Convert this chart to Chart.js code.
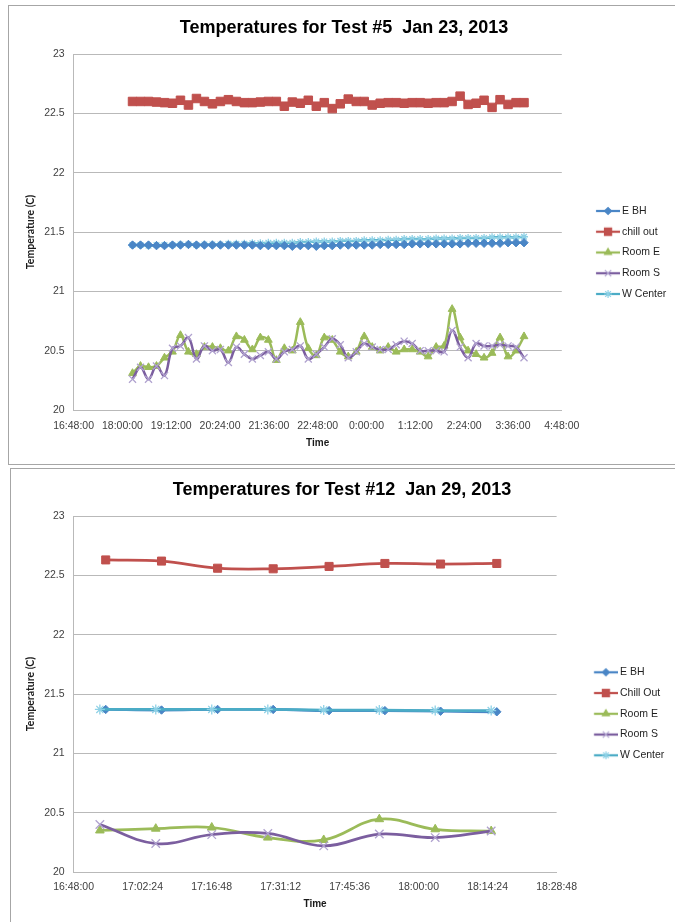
<!DOCTYPE html>
<html>
<head>
<meta charset="utf-8">
<title>Temperatures for Test #5 and Test #12</title>
<script src="https://cdn.jsdelivr.net/npm/chart.js@4/dist/chart.umd.min.js"></script>
<style>
  html, body { margin: 0; padding: 0; background: #fff; }
  body { width: 675px; height: 922px; position: relative; overflow: hidden; }
  .panel { position: absolute; border: 1px solid #a6a6a6; box-sizing: border-box; }
  #panel5 { left: 8px; top: 5px; width: 700px; height: 460px; }
  #panel12 { left: 10px; top: 468px; width: 700px; height: 470px; }
  canvas { position: absolute; left: 0; }
  #chart5 { top: 0; }
  #chart12 { top: 464px; }
</style>
</head>
<body>
<div class="panel" id="panel5"></div>
<div class="panel" id="panel12"></div>
<canvas id="chart5" width="675" height="464" style="width:675px;height:464px"></canvas>
<canvas id="chart12" width="675" height="458" style="width:675px;height:458px"></canvas>
<script>
// ---- Test #5, Jan 23, 2013 (overnight run) ----
const TITLE_5 = 'Temperatures for Test #5  Jan 23, 2013';
const LABELS_5 = ['E BH', 'chill out', 'Room E', 'Room S', 'W Center'];
const TIMES_5 = [
  '18:14:54','18:26:41','18:38:28','18:50:15','19:02:02','19:13:49','19:25:36','19:37:23','19:49:10','20:00:57',
  '20:12:44','20:24:31','20:36:18','20:48:05','20:59:52','21:11:39','21:23:26','21:35:13','21:47:00','21:58:47',
  '22:10:34','22:22:21','22:34:08','22:45:55','22:57:42','23:09:29','23:21:16','23:33:03','23:44:50','23:56:37',
  '0:08:24','0:20:11','0:31:58','0:43:45','0:55:32','1:07:19','1:19:06','1:30:53','1:42:40','1:54:27',
  '2:06:14','2:18:01','2:29:48','2:41:35','2:53:22','3:05:09','3:16:56','3:28:43','3:40:30','3:52:17'
];
const E_BH_5 = [
  21.39, 21.39, 21.39, 21.385, 21.385, 21.39, 21.39, 21.395, 21.39, 21.39,
  21.39, 21.39, 21.39, 21.39, 21.39, 21.39, 21.385, 21.385, 21.385, 21.385,
  21.38, 21.385, 21.385, 21.38, 21.385, 21.385, 21.39, 21.39, 21.39, 21.39,
  21.39, 21.395, 21.395, 21.395, 21.395, 21.40, 21.40, 21.40, 21.40, 21.40,
  21.40, 21.40, 21.405, 21.405, 21.405, 21.405, 21.405, 21.41, 21.41, 21.41
];
const CHILL_OUT_5 = [
  22.60, 22.60, 22.60, 22.595, 22.59, 22.585, 22.61, 22.57, 22.625, 22.60,
  22.58, 22.60, 22.615, 22.60, 22.59, 22.59, 22.595, 22.60, 22.60, 22.56,
  22.595, 22.585, 22.61, 22.56, 22.59, 22.54, 22.58, 22.62, 22.60, 22.60,
  22.57, 22.585, 22.59, 22.59, 22.585, 22.59, 22.59, 22.585, 22.59, 22.59,
  22.60, 22.645, 22.575, 22.585, 22.61, 22.55, 22.615, 22.575, 22.59, 22.59
];
const ROOM_E_5 = [
  20.31, 20.37, 20.36, 20.37, 20.44, 20.49, 20.63, 20.49, 20.47, 20.53,
  20.53, 20.52, 20.50, 20.62, 20.59, 20.51, 20.61, 20.59, 20.42, 20.52,
  20.50, 20.74, 20.52, 20.46, 20.61, 20.59, 20.49, 20.45, 20.49, 20.62,
  20.53, 20.50, 20.53, 20.49, 20.51, 20.51, 20.49, 20.45, 20.53, 20.54,
  20.85, 20.61, 20.50, 20.47, 20.44, 20.48, 20.61, 20.45, 20.50, 20.62
];
const ROOM_S_5 = [
  20.26, 20.36, 20.26, 20.37, 20.29, 20.52, 20.54, 20.61, 20.43, 20.54,
  20.50, 20.51, 20.40, 20.53, 20.47, 20.43, 20.46, 20.49, 20.43, 20.49,
  20.51, 20.54, 20.43, 20.47, 20.53, 20.60, 20.55, 20.44, 20.49, 20.56,
  20.53, 20.51, 20.51, 20.55, 20.58, 20.56, 20.50, 20.50, 20.50, 20.49,
  20.67, 20.53, 20.44, 20.56, 20.54, 20.54, 20.55, 20.54, 20.53, 20.44
];
const W_CENTER_5 = [
  21.39, 21.39, 21.385, 21.39, 21.39, 21.39, 21.395, 21.395, 21.39, 21.395,
  21.395, 21.395, 21.40, 21.40, 21.40, 21.405, 21.405, 21.41, 21.41, 21.41,
  21.41, 21.415, 21.415, 21.42, 21.42, 21.42, 21.425, 21.425, 21.425, 21.43,
  21.43, 21.43, 21.435, 21.435, 21.44, 21.44, 21.44, 21.44, 21.445, 21.445,
  21.445, 21.45, 21.45, 21.45, 21.45, 21.455, 21.455, 21.455, 21.455, 21.46
];
const X_TICKS_5 = { min: '16:48:00', max: '4:48:00', step: '1:12:00' };

// ---- Test #12, Jan 29, 2013 ----
const TITLE_12 = 'Temperatures for Test #12  Jan 29, 2013';
const LABELS_12 = ['E BH', 'Chill Out', 'Room E', 'Room S', 'W Center'];
// the E BH / Chill Out logger and the room loggers read at slightly different times
const TIMES_12_PLANT = ['16:54:42','17:06:21','17:18:03','17:29:39','17:41:19','17:52:58','18:04:35','18:16:19'];
const TIMES_12_ROOM  = ['16:53:29','17:05:09','17:16:50','17:28:32','17:40:12','17:51:48','18:03:28','18:15:09'];
const E_BH_12      = [21.37, 21.365, 21.37, 21.37, 21.36, 21.36, 21.355, 21.35];
const CHILL_OUT_12 = [22.63, 22.62, 22.56, 22.555, 22.575, 22.60, 22.595, 22.60];
const ROOM_E_12    = [20.35, 20.365, 20.375, 20.29, 20.27, 20.445, 20.36, 20.345];
const ROOM_S_12    = [20.40, 20.24, 20.315, 20.325, 20.22, 20.32, 20.29, 20.345];
const W_CENTER_12  = [21.37, 21.37, 21.37, 21.37, 21.365, 21.365, 21.36, 21.36];
const X_TICKS_12 = { min: '16:48:00', max: '18:28:48', step: '0:14:24' };

const Y_TICKS = { min: 20, max: 23, step: 0.5 };

// ---- shared look ----
const SANS = "'Liberation Sans', Arial, sans-serif";
const GRID = '#b9b9b9';
const INK = '#404040';
const TICK_FONT = { family: SANS, size: 10.5 };
const LEGEND_FONT = 10.5;
const LEGEND_PAD = 10.25;
const SERIES_STYLE = [
  { line: '#4a86c6', mark: '#4a86c6', style: 'rectRot' },
  { line: '#c0504d', mark: '#c0504d', style: 'rect' },
  { line: '#9bbb59', mark: '#9bbb59', style: 'triangle' },
  { line: '#7b5e9f', mark: '#b0a2cf', style: 'crossRot' },
  { line: '#4bacc6', mark: '#8ed1e6', style: 'star' }
];
// drawing order per chart (lower = drawn later, on top)
const ORDER_5  = [0, 3, 2, 1, 4];
const ORDER_12 = [1, 4, 3, 2, 0];

function clockToSeconds(t) {
  const [h, m, s] = t.split(':').map(Number);
  return h * 3600 + m * 60 + s;
}
// times before noon belong to the following day
function timeOfRun(t) {
  const v = clockToSeconds(t);
  return v < 12 * 3600 ? v + 86400 : v;
}
function secondsToClock(v) {
  const t = Math.round(v) % 86400;
  const h = Math.floor(t / 3600), m = Math.floor((t % 3600) / 60), s = t % 60;
  return h + ':' + String(m).padStart(2, '0') + ':' + String(s).padStart(2, '0');
}
function points(times, values) {
  return values.map((y, i) => ({ x: timeOfRun(times[i]), y }));
}

function strokePoint(ctx, style, radius, x, y) {
  if (Chart.helpers && Chart.helpers.drawPoint) {
    Chart.helpers.drawPoint(ctx, { pointStyle: style, radius, borderWidth: 1.2, rotation: 0 }, x, y);
  }
}

// legend swatch: a short line with the series marker, drawn onto a small canvas
function legendIcon(st, radius, g) {
  const L = g.chartRight + LEGEND_PAD;
  const bw = g.textX - LEGEND_FONT / 2 - L;
  const cx = L + bw / 2;
  const w = Math.round(2 * (g.lineEnd - cx));
  const left = cx - w / 2;
  const c = document.createElement('canvas');
  c.width = w; c.height = 14;
  const ctx = c.getContext('2d');
  ctx.strokeStyle = st.line; ctx.lineWidth = 2.25;
  ctx.beginPath(); ctx.moveTo(g.lineStart - left, 7); ctx.lineTo(w, 7); ctx.stroke();
  ctx.fillStyle = st.mark; ctx.strokeStyle = st.mark; ctx.lineWidth = 1.2;
  strokePoint(ctx, st.style, radius, g.markX - left, 7);
  return { icon: c, boxWidth: bw };
}

// keeps the legend at a fixed width and at a chosen height
const legendFrame = {
  id: 'legendFrame',
  beforeLayout(chart, args, opts) {
    const lg = chart.legend;
    if (lg && !lg.__fixedWidth) {
      const fit = lg.fit;
      lg.fit = function () { fit.call(this); this.width = opts.width; };
      lg.__fixedWidth = true;
    }
  },
  afterLayout(chart, args, opts) {
    const lg = chart.legend;
    const h = lg.height;
    lg.top = opts.top;
    lg.bottom = opts.top + h;
  }
};

function buildChart(canvasId, spec) {
  const L = spec.layout;
  const icons = spec.series.map((s, i) => legendIcon(SERIES_STYLE[i], s.legendRadius, {
    chartRight: L.chartRight, textX: L.legendTextX,
    lineStart: L.legendLineStart, lineEnd: L.legendLineEnd, markX: L.legendMarkX
  }));
  const datasets = spec.series.map((s, i) => {
    const st = SERIES_STYLE[i];
    const thin = st.style === 'crossRot' || st.style === 'star';
    return {
      label: s.label,
      data: points(s.times, s.values),
      borderColor: st.line,
      backgroundColor: st.mark,
      borderWidth: spec.lineWidth,
      pointStyle: st.style,
      pointRadius: s.radius,
      pointHoverRadius: s.radius,
      pointBorderColor: st.mark,
      pointBackgroundColor: st.mark,
      pointBorderWidth: thin ? 1.3 : 1,
      tension: 0.4,
      fill: false,
      order: spec.order[i]
    };
  });
  const xMin = timeOfRun(spec.xTicks.min), xMax = timeOfRun(spec.xTicks.max);
  return new Chart(document.getElementById(canvasId), {
    type: 'line',
    data: { datasets },
    plugins: [legendFrame],
    options: {
      responsive: false,
      animation: false,
      devicePixelRatio: 1,
      events: [],
      layout: { autoPadding: false, padding: { left: L.padLeft, right: 0, top: 0, bottom: L.padBottom } },
      plugins: {
        title: {
          display: true, text: spec.title, color: '#000',
          font: { family: SANS, size: 18, weight: 'bold', lineHeight: 1.2 },
          padding: { top: L.titleTop, bottom: L.titleBottom }
        },
        legend: {
          position: 'right', align: 'start',
          labels: {
            usePointStyle: true,
            pointStyleWidth: icons[0].boxWidth,
            padding: LEGEND_PAD,
            color: '#1f1f1f',
            font: { family: SANS, size: LEGEND_FONT },
            generateLabels(chart) {
              const items = Chart.defaults.plugins.legend.labels.generateLabels(chart);
              items.forEach(it => { it.pointStyle = icons[it.datasetIndex].icon; });
              return items.sort((a, b) => a.datasetIndex - b.datasetIndex);
            }
          }
        },
        tooltip: { enabled: false },
        legendFrame: { width: L.legendWidth, top: L.legendTop }
      },
      scales: {
        x: {
          type: 'linear', min: xMin, max: xMax,
          ticks: {
            stepSize: clockToSeconds(spec.xTicks.step), autoSkip: false, maxRotation: 0,
            padding: L.xTickPad, color: INK, font: TICK_FONT,
            callback: v => secondsToClock(v)
          },
          grid: { display: false, drawTicks: false },
          border: { color: GRID },
          title: { display: true, text: 'Time', color: '#1a1a1a', padding: 0,
                   font: { family: SANS, size: 10, weight: 'bold', lineHeight: 1.2 } },
          afterFit(scale) { scale.height = L.xHeight; }
        },
        y: {
          min: Y_TICKS.min, max: Y_TICKS.max,
          ticks: { stepSize: Y_TICKS.step, padding: 9, color: INK, font: TICK_FONT,
                   callback: v => String(+v.toFixed(1)) },
          grid: { color: GRID, lineWidth: 1, drawTicks: false },
          border: { color: GRID },
          title: { display: true, text: 'Temperature (C)', color: '#1a1a1a',
                   padding: { top: L.yTitlePad, bottom: 0 },
                   font: { family: 'Lato', size: 10.5, weight: 'bold', lineHeight: 1.2 } },
          afterFit(scale) { scale.width = L.yWidth; }
        }
      }
    }
  });
}

buildChart('chart5', {
  title: TITLE_5,
  xTicks: X_TICKS_5,
  lineWidth: 2.5,
  order: ORDER_5,
  series: [
    { label: LABELS_5[0], times: TIMES_5, values: E_BH_5,      radius: 4.2, legendRadius: 3.5 },
    { label: LABELS_5[1], times: TIMES_5, values: CHILL_OUT_5, radius: 6,   legendRadius: 5 },
    { label: LABELS_5[2], times: TIMES_5, values: ROOM_E_5,    radius: 4.5, legendRadius: 4 },
    { label: LABELS_5[3], times: TIMES_5, values: ROOM_S_5,    radius: 5,   legendRadius: 4.5 },
    { label: LABELS_5[4], times: TIMES_5, values: W_CENTER_5,  radius: 4,   legendRadius: 4 }
  ],
  layout: {
    padLeft: 13, yTitlePad: 11.7, yWidth: 60.6, legendWidth: 113.2, chartRight: 561.8,
    titleTop: 17.2, titleBottom: 15.2, xHeight: 39, padBottom: 15, xTickPad: 9.7,
    legendTop: 195.5, legendTextX: 622, legendLineStart: 596, legendLineEnd: 620, legendMarkX: 608
  }
});

buildChart('chart12', {
  title: TITLE_12,
  xTicks: X_TICKS_12,
  lineWidth: 2.75,
  order: ORDER_12,
  series: [
    { label: LABELS_12[0], times: TIMES_12_PLANT, values: E_BH_12,      radius: 4.2, legendRadius: 3.5 },
    { label: LABELS_12[1], times: TIMES_12_PLANT, values: CHILL_OUT_12, radius: 5.7, legendRadius: 5 },
    { label: LABELS_12[2], times: TIMES_12_ROOM,  values: ROOM_E_12,    radius: 5,   legendRadius: 4 },
    { label: LABELS_12[3], times: TIMES_12_ROOM,  values: ROOM_S_12,    radius: 6,   legendRadius: 4.5 },
    { label: LABELS_12[4], times: TIMES_12_ROOM,  values: W_CENTER_12,  radius: 5,   legendRadius: 4 }
  ],
  layout: {
    padLeft: 9, yTitlePad: 15.7, yWidth: 64.6, legendWidth: 118.4, chartRight: 556.6,
    titleTop: 15.2, titleBottom: 15.2, xHeight: 38, padBottom: 12, xTickPad: 8.4,
    legendTop: 192.8, legendTextX: 620, legendLineStart: 594, legendLineEnd: 617.7, legendMarkX: 605.9
  }
});
</script>
</body>
</html>
